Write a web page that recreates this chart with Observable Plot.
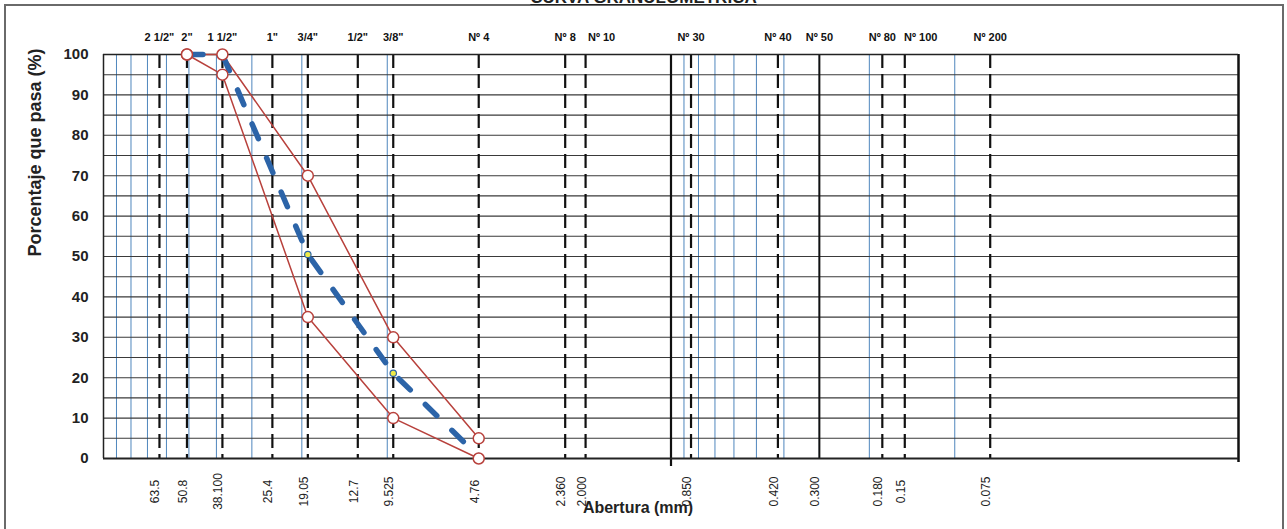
<!DOCTYPE html>
<html><head><meta charset="utf-8">
<script src="https://cdn.jsdelivr.net/npm/d3@7"></script>
<script src="https://cdn.jsdelivr.net/npm/@observablehq/plot@0.6"></script>
<style>
html,body{margin:0;padding:0;background:#fff;overflow:hidden;}
#wrap{position:relative;width:1287px;height:529px;overflow:hidden;}
#chart svg{display:block;}
#border{position:absolute;left:4px;top:4px;width:1276px;height:540px;border:2px solid #6a6a6a;pointer-events:none;}
#title{position:absolute;left:0;width:1287px;top:-12px;text-align:center;font:bold 17px "Liberation Sans",Arial,sans-serif;line-height:20px;text-decoration:underline;color:#222;}
</style></head><body>
<div id="wrap"><div id="chart"></div><div id="border"></div><div id="title">CURVA GRANULOMÉTRICA</div></div>
<script>
// Sieve openings (mm) and their names
const sieveSizes = [63.5, 50.8, 38.1, 25.4, 19.05, 12.7, 9.525, 4.76, 2.36, 2.0, 0.85, 0.42, 0.30, 0.18, 0.15, 0.075];
const sieveNames = ["2 1/2\"", "2\"", "1 1/2\"", "1\"", "3/4\"", "1/2\"", "3/8\"", "Nº 4", "Nº 8", "Nº 10", "Nº 30", "Nº 40", "Nº 50", "Nº 80", "Nº 100", "Nº 200"];
const sizeLabels = ["63.5", "50.8", "38.100", "25.4", "19.05", "12.7", "9.525", "4.76", "2.360", "2.000", "0.850", "0.420", "0.300", "0.180", "0.15", "0.075"];
// Log-paper minor grid (mm)
const minorGrid = [90, 80, 70, 60, 50, 40, 30, 20, 10, 0.9, 0.8, 0.7, 0.6, 0.5, 0.4, 0.3, 0.2, 0.1];
const percentTicks = [0, 10, 20, 30, 40, 50, 60, 70, 80, 90, 100];
const gridLevels = [0, 5, 10, 15, 20, 25, 30, 35, 40, 45, 50, 55, 60, 65, 70, 75, 80, 85, 90, 95, 100];
// Gradation band and sample
const bandSizes = [50.8, 38.1, 19.05, 9.525, 4.76];
const upperLimit = [100, 100, 70, 30, 5];
const lowerLimit = [100, 95, 35, 10, 0];
const samplePassing = [100, 100, 50.5, 21.1, 0.5];

const font = '"Liberation Sans", Arial, sans-serif';
const red = "#b8413c";
const blue = "#2c64a8";
const sieves = sieveSizes.map((s, i) => ({size: s, name: sieveNames[i], label: sizeLabels[i]}));
const shifted = new Set(["Nº 10", "Nº 100"]);

const chart = Plot.plot({
  width: 1287, height: 529,
  marginLeft: 103, marginRight: 49, marginTop: 54, marginBottom: 71,
  style: {background: "transparent", fontFamily: font, color: "#111"},
  x: {type: "log", domain: [100, 0.01], axis: null},
  y: {domain: [0, 100], axis: null},
  marks: [
    Plot.ruleX(minorGrid, {stroke: "#4f86bd", strokeWidth: 1}),
    Plot.ruleY(gridLevels, {stroke: "#3a3a3a", strokeWidth: 1.1}),
    Plot.ruleX(sieves.filter(d => d.size !== 0.30), {x: "size", stroke: "#111", strokeWidth: 2.2, strokeDasharray: "14,6"}),
    Plot.ruleX([0.30], {stroke: "#111", strokeWidth: 2}),
    Plot.ruleX([1], {y1: -2, y2: 100, stroke: "#111", strokeWidth: 2.2}),
    Plot.ruleX([100], {stroke: "#222", strokeWidth: 1.5}),
    Plot.ruleX([0.01], {y1: -1, y2: 100, stroke: "#111", strokeWidth: 2.5}),
    Plot.ruleY([0], {stroke: "#222", strokeWidth: 2}),
    Plot.ruleY([100], {stroke: "#222", strokeWidth: 1.5}),
    Plot.axisY(percentTicks, {tickSize: 0, tickPadding: 15, fontSize: 15, fontWeight: "bold", fill: "#222", label: null}),
    Plot.text(["Porcentaje que pasa (%)"], {frameAnchor: "left", dx: -68, rotate: -90, fontSize: 18, fontWeight: "bold", fill: "#222"}),
    Plot.text(sieves.filter(d => !shifted.has(d.name)), {x: "size", text: "name", frameAnchor: "top", dy: -21, fontSize: 11, fontWeight: "bold", fill: "#111"}),
    Plot.text(sieves.filter(d => shifted.has(d.name)), {x: "size", text: "name", frameAnchor: "top", dy: -21, dx: 16, fontSize: 11, fontWeight: "bold", fill: "#111"}),
    Plot.text(sieves, {x: "size", text: "label", frameAnchor: "bottom", dy: 33, rotate: -90, fontSize: 12, fill: "#222"}),
    Plot.text(["Abertura (mm)"], {frameAnchor: "bottom", dy: 54, dx: -33, fontSize: 16, fontWeight: "bold", fill: "#222"}),
    Plot.line(upperLimit, {x: bandSizes, y: upperLimit, stroke: red, strokeWidth: 1.5}),
    Plot.line(lowerLimit, {x: bandSizes, y: lowerLimit, stroke: red, strokeWidth: 1.5}),
    Plot.line(samplePassing, {x: bandSizes, y: samplePassing, stroke: blue, strokeWidth: 5.5, strokeDasharray: "16,21", strokeLinecap: "round"}),
    Plot.dot(samplePassing, {x: bandSizes, y: samplePassing, r: 3.2, fill: "#eeea48", stroke: blue, strokeWidth: 1.2}),
    Plot.dot(upperLimit, {x: bandSizes, y: upperLimit, r: 5.5, fill: "white", stroke: red, strokeWidth: 1.5}),
    Plot.dot(lowerLimit, {x: bandSizes, y: lowerLimit, r: 5.5, fill: "white", stroke: red, strokeWidth: 1.5})
  ]
});
document.getElementById("chart").appendChild(chart);
</script>
</body></html>
